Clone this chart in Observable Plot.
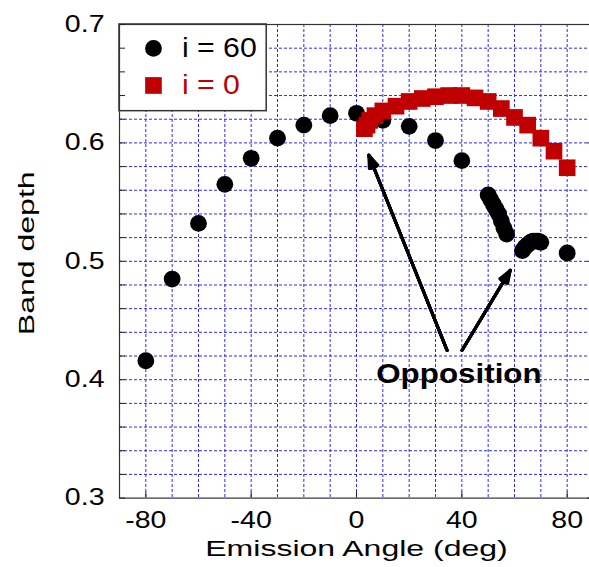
<!DOCTYPE html>
<html><head><meta charset="utf-8">
<script src="https://cdn.jsdelivr.net/npm/d3@7"></script>
<script src="https://cdn.jsdelivr.net/npm/@observablehq/plot@0.6"></script>
<style>html,body{margin:0;padding:0;background:#fff;overflow:hidden}</style>
</head><body><div id="chart"></div>
<script>
// ---- data ----
const emissionI60 = [-80,-70,-60,-50,-40,-30,-20,-10,0,10,20,30,40,50,51,52,53,54,55,56,57,63,64,65,66,67,68,69,70,80];
const depthI60    = [0.416,0.485,0.532,0.565,0.587,0.604,0.615,0.623,0.625,0.619,0.614,0.602,0.585,0.556,0.552,0.548,0.544,0.540,0.534,0.528,0.523,0.509,0.512,0.514,0.516,0.517,0.517,0.517,0.516,0.507];
const emissionI0  = [3,4,5,7,10,15,20,25,30,35,40,45,50,55,60,65,70,75,80];
const depthI0     = [0.612,0.615,0.619,0.623,0.627,0.631,0.635,0.6375,0.639,0.640,0.640,0.638,0.635,0.629,0.6215,0.615,0.604,0.593,0.579];
const xTickLabels = [-80,-40,0,40,80];
const xGridTicks  = [-80,-70,-60,-50,-40,-30,-20,-10,0,10,20,30,40,50,60,70,80];
const yTickLabels = [0.3,0.4,0.5,0.6,0.7];
const yGridTicks  = [0.32,0.34,0.36,0.38,0.40,0.42,0.44,0.46,0.48,0.50,0.52,0.54,0.56,0.58,0.60,0.62,0.64,0.66,0.68];
const yMinorTicks = [0.30,0.32,0.34,0.36,0.38,0.40,0.42,0.44,0.46,0.48,0.50,0.52,0.54,0.56,0.58,0.60,0.62,0.64,0.66,0.68,0.70];
const legendLabels = ["i = 60","i = 0"];
const seriesColors = ["#000000","#c00000"];
const annotationText = "Opposition";
const xLabel = "Emission Angle (deg)";
const yLabel = "Band depth";
// arrows: tail -> tip (emission, depth)
const arrowTail1 = [34.4,0.4248], arrowTip1 = [4.7,0.5896];
const arrowTail2 = [40.1,0.4248], arrowTip2 = [58.4,0.4924];

const i60 = emissionI60.map((e,k)=>({e, d: depthI60[k]}));
const i0  = emissionI0.map((e,k)=>({e, d: depthI0[k]}));
const arrows = [
  {x1: arrowTail1[0], y1: arrowTail1[1], x2: arrowTip1[0], y2: arrowTip1[1]},
  {x1: arrowTail2[0], y1: arrowTail2[1], x2: arrowTip2[0], y2: arrowTip2[1]}
];

const W = 589, H = 567, mT = 24, mB = 69.4, mL = 119, mR = -4;
const plotW = W - mL - mR, plotH = H - mT - mB;
const font = "'Liberation Sans', Arial, Helvetica, sans-serif";
const gridColor = "#2a2aff";

const headMarks = [40, 30, 20, 12, 5].map(a => Plot.arrow(arrows, {
  x1: "x1", y1: "y1", x2: "x2", y2: "y2",
  stroke: "black", strokeWidth: 3, headAngle: a, headLength: 6.7
}));

const chart = Plot.plot({
  width: W, height: H,
  marginTop: mT, marginBottom: mB, marginLeft: mL, marginRight: mR,
  style: {fontFamily: font, fontSize: "23px", background: "white", color: "black"},
  x: {domain: [-90, 90], ticks: xTickLabels, tickSize: 0, tickPadding: 14, tickFormat: d => String(d), label: null},
  y: {domain: [0.3, 0.7], ticks: yTickLabels, tickSize: 0, tickPadding: 15, tickFormat: d3.format(".1f"), label: null},
  marks: [
    Plot.ruleX(xGridTicks, {stroke: gridColor, strokeWidth: 1, strokeDasharray: "3,2"}),
    Plot.ruleY(yGridTicks, {stroke: gridColor, strokeWidth: 1, strokeDasharray: "3,2"}),
    Plot.rect([0], {x1: -90, x2: -34.1, y1: 0.6268, y2: 0.7, fill: "white", stroke: "#333", strokeWidth: 1.5}),
    Plot.frame({stroke: "#333", strokeWidth: 1.2}),
    Plot.ruleX(xTickLabels, {insetTop: plotH - 6, stroke: "#222"}),
    Plot.ruleY(yMinorTicks, {insetRight: plotW - 6, stroke: "#222"}),
    Plot.ruleY(yTickLabels, {insetLeft: plotW - 6, stroke: "#222"}),
    ...headMarks,
    Plot.dot(i60, {x: "e", y: "d", r: 8.4, fill: seriesColors[0]}),
    Plot.dot(i0, {x: "e", y: "d", r: 9.4, symbol: "square", fill: seriesColors[1]}),
    Plot.text([annotationText], {x: 38.9, y: 0.4045, text: d => d, fontSize: 28, fontWeight: "bold", fill: "black"}),
    Plot.dot([0], {x: -77.1, y: 0.6798, r: 8.4, fill: seriesColors[0]}),
    Plot.dot([0], {x: -77.1, y: 0.6485, r: 9.4, symbol: "square", fill: seriesColors[1]}),
    Plot.text([legendLabels[0]], {x: -66.3, y: 0.6798, text: d => d, textAnchor: "start", fontSize: 28, fill: seriesColors[0]}),
    Plot.text([legendLabels[1]], {x: -66.3, y: 0.6485, text: d => d, textAnchor: "start", fontSize: 28, fill: seriesColors[1]}),
    Plot.text([xLabel], {frameAnchor: "bottom", textAnchor: "middle", lineAnchor: "middle", dy: 51, text: d => d, fontSize: 21.5, fill: "black"}),
    Plot.text([yLabel], {frameAnchor: "left", textAnchor: "middle", lineAnchor: "middle", rotate: -90, dx: -92.2, dy: -8, text: d => d, fontSize: 21.5, fill: "black"})
  ]
});
document.getElementById("chart").appendChild(chart);

// The reference's typeface renders wide along the baseline: stretch text along its own baseline.
const svg = chart.tagName.toLowerCase() === "svg" ? chart : chart.querySelector("svg");
svg.querySelectorAll("text").forEach(t => {
  const s = t.textContent.trim();
  let k;
  if (/^[-\u2212\d.]+$/.test(s)) k = 1.24;
  else if (s.startsWith("i =")) k = 1.08;
  else if (s === annotationText) k = 1.12;
  else k = 1.49;
  const x0 = parseFloat(t.getAttribute("x")) || 0;
  const tr = t.getAttribute("transform") || "";
  t.setAttribute("transform", `${tr} translate(${x0},0) scale(${k},1) translate(${-x0},0)`);
});
</script>
</body></html>
